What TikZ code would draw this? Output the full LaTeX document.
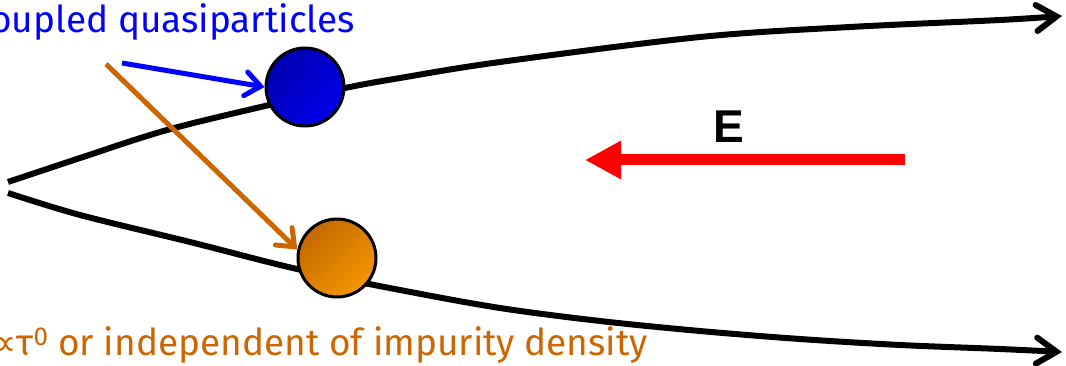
\documentclass[tikz,border=0pt]{standalone}
\usepackage{fontspec}
\setmainfont{Fira Sans}
\newfontfamily\efont{Liberation Sans}
\newfontfamily\symfont{DejaVu Sans}
\usetikzlibrary{arrows.meta}
\definecolor{qblue}{RGB}{0,0,255}
\definecolor{qorange}{RGB}{204,102,0}
\definecolor{qred}{RGB}{255,0,0}
\definecolor{bdark}{RGB}{0,0,175}
\definecolor{blight}{RGB}{0,0,235}
\definecolor{odark}{RGB}{195,105,0}
\definecolor{olight}{RGB}{245,150,0}
\tikzset{
  branch/.style={line width=6pt, -{Straight Barb[length=20pt,width=26pt,line cap=round]}},
  particle/.style={circle, draw=black, line width=3pt, minimum size=78pt, inner sep=0pt},
  pointer/.style={line width=5pt, -{Straight Barb[length=15pt,width=24pt,line cap=round]}},
  label/.style={font=\fontsize{37}{44}\selectfont, inner sep=0pt},
  field/.style={line width=11pt, qred, -{Triangle[length=36pt,width=36pt]}}
}
\begin{document}
\begin{tikzpicture}[x=1pt,y=-1pt]
\useasboundingbox (0,0) rectangle (1066,366);
\clip (0,0) rectangle (1066,366);
% branches
\draw[branch] plot[smooth, tension=0.55] coordinates {(8,182) (80,158) (167,130) (265,106) (345,88) (400,78) (500,62) (700,37) (850,27) (1000,20) (1062,16)};
\draw[branch] plot[smooth, tension=0.55] coordinates {(8,193) (80,215) (190,242) (297,269) (400,290) (500,308) (600,321) (700,331) (800,339) (900,345) (1000,349) (1062,352)};
% particles
\node[particle, left color=bdark, right color=blight, shading angle=45] (blue) at (305,87) {};
\node[particle, left color=odark, right color=olight, shading angle=45] (orange) at (337,258) {};
% labels
\node[label, text=qblue, anchor=base east] (toptext) at (355,33) {coupled quasiparticles};
\node[label, text=qorange, anchor=base east] (bottext) at (648,355) {{\symfont ∝}τ\textsuperscript{0} or independent of impurity density};
% pointers
\coordinate (bstart) at (122,63);
\coordinate (ostart) at (106,64);
\draw[pointer, qblue] (bstart) -- (blue.west);
\draw[pointer, qorange] (ostart) -- (orange.168);
% field
\coordinate (fstart) at (905,160);
\coordinate (fend) at (585,160);
\draw[field] (fstart) -- (fend);
\node[font=\efont\bfseries\fontsize{46}{50}\selectfont, inner sep=0pt] (E) at (729,127) {E};
\end{tikzpicture}
\end{document}
